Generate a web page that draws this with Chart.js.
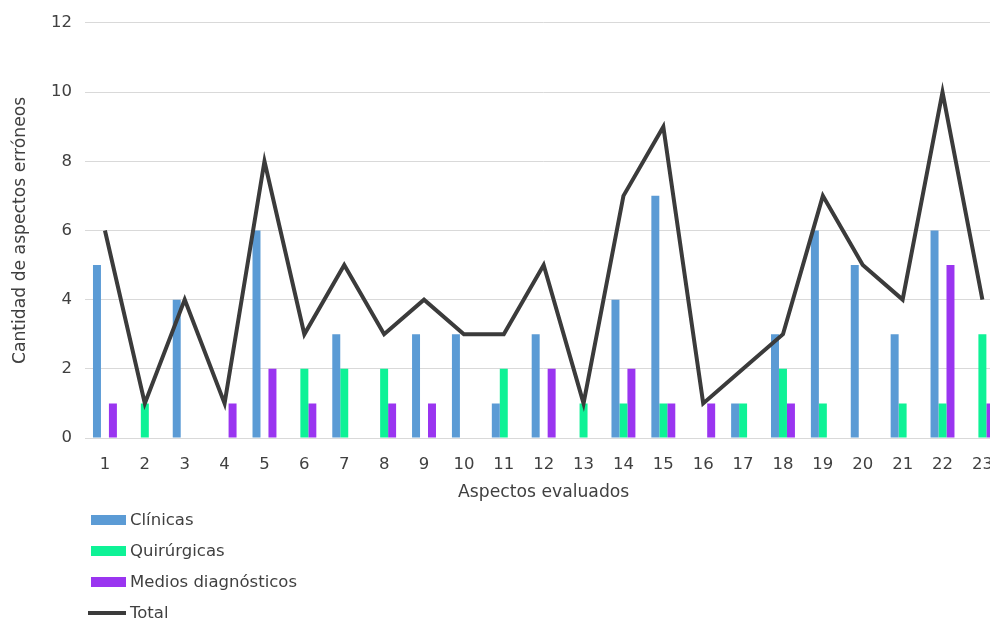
<!DOCTYPE html>
<html>
<head>
<meta charset="utf-8">
<script src="https://cdn.jsdelivr.net/npm/chart.js@4/dist/chart.umd.min.js"></script>
<style>
  html, body { margin: 0; padding: 0; background: #fff; overflow: hidden; width: 990px; height: 619px; }
  #wrap { position: absolute; left: 0; top: 0; width: 1010px; height: 619px; }
  #legend { position: absolute; left: 88px; top: 504px; font-family: "DejaVu Sans", Verdana, sans-serif; font-size: 16.5px; color: #404040; }
  .item { height: 31px; display: flex; align-items: center; }
  .sw { width: 35px; height: 10px; margin-left: 3px; margin-right: 4px; }
  .ln { width: 38px; height: 4px; margin-right: 4px; }
</style>
</head>
<body>
<div id="wrap"><canvas id="c"></canvas></div>
<div id="legend"></div>
<script>
const categories = ["1","2","3","4","5","6","7","8","9","10","11","12","13","14","15","16","17","18","19","20","21","22","23"];
const clinicas    = [5,0,4,0,6,0,3,0,3,3,1,3,0,4,7,0,1,3,6,5,3,6,0];
const quirurgicas = [0,1,0,0,0,2,2,2,0,0,2,0,1,1,1,0,1,2,1,0,1,1,3];
const medios      = [1,0,0,1,2,1,0,1,1,0,0,2,0,2,1,1,0,1,0,0,0,5,1];
const total       = [6,1,4,1,8,3,5,3,4,3,3,5,1,7,9,1,2,3,7,5,4,10,4];
const yTicks = [0,2,4,6,8,10,12];
const seriesNames = ["Clínicas","Quirúrgicas","Medios diagnósticos","Total"];
const colors = ["#5B9BD5","#0EF296","#9A35F0","#3B3B3B"];

const font = { family: '"DejaVu Sans", Verdana, sans-serif', size: 16.5 };
const titleFont = { family: '"DejaVu Sans", Verdana, sans-serif', size: 17.2 };
const textColor = "#404040";

new Chart(document.getElementById("c"), {
  data: {
    labels: categories,
    datasets: [
      { type: "bar", label: seriesNames[0], data: clinicas, backgroundColor: colors[0], order: 1, categoryPercentage: 0.6, barPercentage: 1.0 },
      { type: "bar", label: seriesNames[1], data: quirurgicas, backgroundColor: colors[1], order: 1, categoryPercentage: 0.6, barPercentage: 1.0 },
      { type: "bar", label: seriesNames[2], data: medios, backgroundColor: colors[2], order: 1, categoryPercentage: 0.6, barPercentage: 1.0 },
      { type: "line", label: seriesNames[3], data: total, borderColor: colors[3], borderWidth: 4, pointRadius: 0, tension: 0, fill: false, order: 0, borderJoinStyle: "miter" }
    ]
  },
  options: {
    responsive: true,
    maintainAspectRatio: false,
    animation: false,
    layout: { padding: { left: 0, right: 5, top: 22, bottom: 111 } },
    plugins: { legend: { display: false }, tooltip: { enabled: false } },
    scales: {
      x: {
        grid: { display: false, drawTicks: false },
        border: { display: true, color: "#D9D9D9" },
        ticks: { font: font, color: textColor, padding: 17, maxRotation: 0, autoSkip: false },
        title: { display: true, text: "Aspectos evaluados", font: titleFont, color: textColor, padding: { top: 0, bottom: 5 } },
        afterFit: s => { s.height = 70; }
      },
      y: {
        min: 0, max: 12,
        afterBuildTicks: s => { s.ticks = yTicks.map(v => ({ value: v })); },
        grid: { color: "#D9D9D9", drawTicks: false, lineWidth: 1 },
        border: { display: false },
        ticks: { font: font, color: textColor, padding: 13 },
        title: { display: true, text: "Cantidad de aspectos erróneos", font: titleFont, color: textColor, padding: { top: 10, bottom: 0 } },
        afterFit: s => { s.width = 85; }
      }
    }
  }
});

const lg = document.getElementById("legend");
seriesNames.forEach((n, i) => {
  const d = document.createElement("div");
  d.className = "item";
  const sw = document.createElement("span");
  sw.className = i === 3 ? "ln" : "sw";
  sw.style.background = colors[i];
  const t = document.createElement("span");
  t.textContent = n;
  d.appendChild(sw); d.appendChild(t);
  lg.appendChild(d);
});
</script>
</body>
</html>
